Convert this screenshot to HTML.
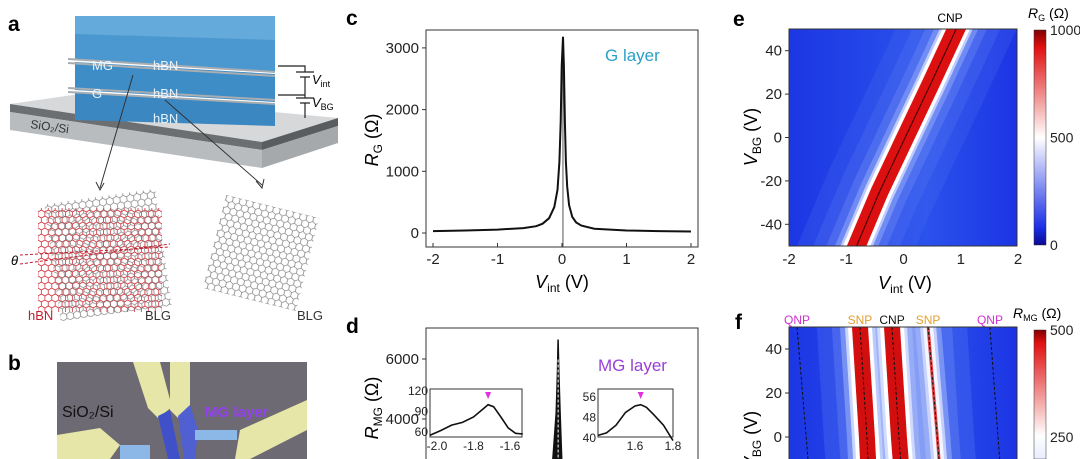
<!DOCTYPE html>
<html><head><meta charset="utf-8"><style>
html,body{margin:0;background:#fff;overflow:hidden;width:1080px;height:459px;}
svg{display:block;font-family:"Liberation Sans",Arial,sans-serif;}
</style></head><body>
<svg id="fig" width="1080" height="459" viewBox="0 0 1080 459" xmlns="http://www.w3.org/2000/svg">
<defs>
  <pattern id="hexR" width="6.9" height="12" patternUnits="userSpaceOnUse">
    <path d="M0,2 L3.45,0 L6.9,2 L6.9,6 L3.45,8 L0,6 Z M3.45,8 L3.45,12" fill="none" stroke="#d0303a" stroke-width="0.8"/>
  </pattern>
  <pattern id="hexG" width="6.9" height="12" patternUnits="userSpaceOnUse">
    <path d="M0,2 L3.45,0 L6.9,2 L6.9,6 L3.45,8 L0,6 Z M3.45,8 L3.45,12" fill="none" stroke="#777" stroke-width="0.7"/>
  </pattern>
  <linearGradient id="cbE" x1="0" y1="1" x2="0" y2="0">
    <stop offset="0" stop-color="#0a0a90"/><stop offset="0.08" stop-color="#1a2ee6"/>
    <stop offset="0.5" stop-color="#ffffff"/><stop offset="0.92" stop-color="#e01010"/><stop offset="1" stop-color="#800000"/>
  </linearGradient>
  <linearGradient id="cbF" x1="0" y1="1" x2="0" y2="0">
    <stop offset="0" stop-color="#e8ecff"/><stop offset="0.18" stop-color="#ffffff"/><stop offset="0.9" stop-color="#e01010"/><stop offset="1" stop-color="#800000"/>
  </linearGradient>
  <linearGradient id="bgE" x1="0" y1="0" x2="1" y2="0">
    <stop offset="0" stop-color="#1c36e4"/><stop offset="0.6" stop-color="#2a52ec"/><stop offset="1" stop-color="#1c34e4"/>
  </linearGradient>
  <clipPath id="clipE"><rect x="789" y="29" width="228" height="217"/></clipPath>
  <clipPath id="clipF"><rect x="789" y="327" width="228" height="132"/></clipPath>
  <clipPath id="clipD"><rect x="426" y="328" width="272" height="131"/></clipPath>
</defs>

<!-- Panel a -->
<g>
  <text x="8" y="31" font-size="21" font-weight="bold">a</text>
  <polygon points="10,104 80,94 338,118 262,142" fill="#d6d8da"/>
  <polygon points="10,104 262,142 262,150 10,112" fill="#6c6f72"/>
  <polygon points="10,112 262,150 262,168 10,130" fill="#b9bcbf"/>
  <polygon points="262,142 338,118 338,126 262,150" fill="#5a5d60"/>
  <polygon points="262,150 338,126 338,143 262,168" fill="#a6a9ac"/>
  <polygon points="75,16 275,16 275,72 75,60" fill="#4a98cf"/>
  <polygon points="75,16 275,16 275,40 75,34" fill="#6fb2de" opacity="0.7"/>
  <polygon points="75,62 275,74 275,102 75,90" fill="#3f8dc6"/>
  <polygon points="75,92 275,104 275,126 75,120" fill="#3a87c2"/>
  <path d="M68,59 L275,72 M68,63 L275,76 M68,88 L275,100 M68,92 L275,104" stroke="#a8adb2" stroke-width="2" fill="none"/>
  <g font-size="13" fill="#e8f2fa">
    <text x="92" y="70">MG</text>
    <text x="153" y="70">hBN</text>
    <text x="92" y="98">G</text>
    <text x="153" y="98">hBN</text>
    <text x="153" y="123">hBN</text>
  </g>
  <text x="30" y="128" font-size="12" fill="#333" transform="rotate(8 30 128)">SiO₂/Si</text>
  <path d="M278,66 H305 V72 M296,72 H314 M300,77 H310 M305,77 V95 M278,95 H305 M305,95 V98 M296,98 H314 M300,103 H310 M305,103 V118" stroke="#222" stroke-width="1.2" fill="none"/>
  <text x="312" y="84" font-size="13" font-style="italic">V<tspan font-size="9" font-style="normal" dy="3">int</tspan></text>
  <text x="312" y="107" font-size="13" font-style="italic">V<tspan font-size="9" font-style="normal" dy="3">BG</tspan></text>
  <path d="M133,75 L100,188 M165,100 L262,185" stroke="#333" stroke-width="1"/>
  <path d="M96,182 L100,190 L104,183 M256,181 L262,188 L264,179" stroke="#333" fill="none"/>
  <rect x="38" y="208" width="124" height="104" fill="url(#hexR)"/>
  <rect x="52" y="196" width="112" height="118" fill="url(#hexG)" transform="rotate(-8 108 255)"/>
  <rect x="213" y="205" width="96" height="96" fill="url(#hexG)" transform="rotate(14 261 253)"/>
  <path d="M20,255 L170,247 M20,264 L170,244" stroke="#c02030" stroke-width="1" stroke-dasharray="3,2"/>
  <text x="11" y="265" font-size="13" font-style="italic">θ</text>
  <text x="28" y="320" font-size="13" fill="#c02030">hBN</text>
  <text x="145" y="320" font-size="13" fill="#333">BLG</text>
  <text x="297" y="320" font-size="13" fill="#333">BLG</text>
</g>

<!-- Panel b -->
<g>
  <text x="8" y="370" font-size="21" font-weight="bold">b</text>
  <rect x="57" y="362" width="250" height="97" fill="#6d6a73"/>
  <polygon points="133,362 160,362 172,407 158,418 148,408" fill="#e6e6a8"/>
  <polygon points="170,362 190,362 190,405 178,418 170,410" fill="#e6e6a8"/>
  <polygon points="57,435 100,428 120,445 110,459 57,459" fill="#e6e6a8"/>
  <polygon points="240,430 307,400 307,430 250,459 235,459" fill="#e6e6a8"/>
  <polygon points="158,416 170,410 180,459 168,459" fill="#4050c8"/>
  <polygon points="178,416 190,405 198,430 195,459 184,459" fill="#5060d0"/>
  <rect x="195" y="430" width="42" height="10" fill="#8cb8e8"/>
  <rect x="120" y="445" width="30" height="14" fill="#8cb8e8"/>
  <text x="62" y="417" font-size="16" fill="#111">SiO₂/Si</text>
  <text x="205" y="417" font-size="15" font-weight="bold" fill="#9440f0">MG layer</text>
</g>

<g id="panelC"></g>
<g id="panelD"></g>
<g id="panelE"></g>
<g id="panelF"></g>
</svg>
<script>
// ---- Panel c data ----
const cV = [-2,-1.5,-1,-0.6,-0.4,-0.3,-0.2,-0.12,-0.07,-0.04,-0.02,-0.005,0.015,0.03,0.045,0.06,0.08,0.11,0.16,0.22,0.3,0.5,1,1.5,2];
const cR = [30,40,55,80,110,150,240,420,700,1150,1800,2700,3180,2700,1800,1150,750,450,260,170,120,70,40,30,25];
const cXTicks = [-2,-1,0,1,2];
const cYTicks = [0,1000,2000,3000];
// ---- Panel d data ----
const dV = [-0.6,-0.3,-0.15,-0.09,-0.07,-0.06,-0.05,-0.03,0.0,0.05,0.2];
const dR = [300,900,2400,4200,5600,6650,5600,4200,2400,900,300];
const dYTicks = [4000,6000];
const inLV = [-2.04,-1.98,-1.92,-1.86,-1.8,-1.75,-1.72,-1.69,-1.65,-1.61,-1.57,-1.53];
const inLR = [55,62,70,74,82,93,100,97,82,66,58,57];
const inLXTicks = [-2.0,-1.8,-1.6];
const inLYTicks = [60,90,120];
const inRV = [1.405,1.45,1.5,1.55,1.6,1.63,1.66,1.7,1.75,1.8];
const inRR = [41,42,45,50,52.5,53,52,49,45,39];
const inRXTicks = [1.6,1.8];
const inRYTicks = [40,48,56];
// ---- Panel e data ----
const eVbg = [-50,-25,0,25,50];
const eCnp = [-0.82,-0.42,0.03,0.48,0.92];
const eXTicks = [-2,-1,0,1,2];
const eYTicks = [-40,-20,0,20,40];
const eCbTicks = [0,500,1000];
// ---- Panel f data ----
const fVbg = [50,0,-10];
const fQnp1 = [-1.86,-1.70,-1.67];
const fSnp1 = [-0.76,-0.64,-0.62];
const fCnp = [-0.20,-0.08,-0.05];
const fSnp2 = [0.43,0.59,0.62];
const fQnp2 = [1.51,1.65,1.68];
const fYTicks = [0,20,40];
const fCbTicks = [250,500];

const NS='http://www.w3.org/2000/svg';
function mk(parent, tag, attrs, text){
  const el=document.createElementNS(NS,tag);
  for(const k in attrs) el.setAttribute(k,attrs[k]);
  if(text!==undefined) el.textContent=text;
  parent.appendChild(el);
  return el;
}
function pathFrom(xs,ys,fx,fy){return xs.map((v,i)=>(i?'L':'M')+fx(v).toFixed(1)+','+fy(ys[i]).toFixed(1)).join(' ');}
// same as pathFrom but extends both ends by 60px along the line (so strokes reach past the clip)
function pathExt(xs,ys,fx,fy){
  const P=xs.map((v,i)=>[fx(v),fy(ys[i])]);
  const n=P.length, ext=(a,b)=>{const dx=a[0]-b[0],dy=a[1]-b[1],L=Math.hypot(dx,dy)||1;return [a[0]+dx/L*60,a[1]+dy/L*60];};
  const pts=[ext(P[0],P[1])].concat(P,[ext(P[n-1],P[n-2])]);
  return pts.map((p,i)=>(i?'L':'M')+p[0].toFixed(1)+','+p[1].toFixed(1)).join(' ');
}
function glow(parent,d,layers){
  layers.forEach(L=>{
    const p=mk(parent,'path',{d:d,fill:'none',stroke:L[0],'stroke-width':L[1],opacity:L[2]});
    
    
  });
}

// ===== Panel C =====
const C=document.getElementById('panelC');
const cx=v=>433+(v+2)*64.5, cy=r=>233-r*0.0617;
let t;
t=mk(C,'text',{x:346,y:25,'font-size':21,'font-weight':'bold'},'c');


t=mk(C,'rect',{x:426,y:30,width:272,height:217,fill:'none',stroke:'#333','stroke-width':1});


cXTicks.forEach(v=>{
  t=mk(C,'line',{x1:cx(v),x2:cx(v),y1:247,y2:243,stroke:'#333'});
  
  
  t=mk(C,'text',{x:cx(v),y:264,'font-size':15,'text-anchor':'middle',fill:'#222'},String(v));
  
  
});
cYTicks.forEach(v=>{
  t=mk(C,'line',{x1:426,x2:422,y1:cy(v),y2:cy(v),stroke:'#333'});
  
  
  t=mk(C,'text',{x:419,y:cy(v)+5,'font-size':15,'text-anchor':'end',fill:'#222'},String(v));
  
  
});
t=mk(C,'line',{x1:cx(0.015),x2:cx(0.015),y1:cy(cR[12]),y2:247,stroke:'#555','stroke-width':1});


t=mk(C,'path',{d:pathFrom(cV,cR,cx,cy),fill:'none',stroke:'#111','stroke-width':2});


t=mk(C,'text',{x:605,y:61,'font-size':17,fill:'#2aa0c8'},'G layer');


t=mk(C,'text',{x:0,y:0,'font-size':18,'text-anchor':'middle',transform:'translate(378,140) rotate(-90)'});
t.innerHTML='<tspan font-style="italic">R</tspan><tspan font-size="12" dy="4">G</tspan><tspan dy="-4"> (Ω)</tspan>';


t=mk(C,'text',{x:562,y:288,'font-size':18,'text-anchor':'middle'});
t.innerHTML='<tspan font-style="italic">V</tspan><tspan font-size="12" dy="4">int</tspan><tspan dy="-4"> (V)</tspan>';



// ===== Panel D =====
const D=document.getElementById('panelD');
const dy=r=>539-r*0.03;
t=mk(D,'text',{x:346,y:333,'font-size':21,'font-weight':'bold'},'d');


t=mk(D,'path',{d:'M426,459 V328 H698 V459',fill:'none',stroke:'#333'});


dYTicks.forEach(v=>{
  t=mk(D,'line',{x1:426,x2:422,y1:dy(v),y2:dy(v),stroke:'#333'});
  
  
  t=mk(D,'text',{x:419,y:dy(v)+5,'font-size':15,'text-anchor':'end',fill:'#222'},String(v));
  
  
});
const dg=mk(D,'g',{'clip-path':'url(#clipD)'});
t=mk(dg,'path',{d:pathFrom(dV,dR,cx,dy)+' Z',fill:'#111',stroke:'#111','stroke-width':1.5});


t=mk(dg,'line',{x1:cx(dV[5]),x2:cx(dV[5]),y1:dy(dR[5])+20,y2:459,stroke:'#fff','stroke-width':1,'stroke-dasharray':'3,2'});


t=mk(D,'text',{x:598,y:371,'font-size':17,fill:'#9a3fd6'},'MG layer');


t=mk(D,'text',{x:0,y:0,'font-size':18,'text-anchor':'middle',transform:'translate(378,408) rotate(-90)'});
t.innerHTML='<tspan font-style="italic">R</tspan><tspan font-size="12" dy="4">MG</tspan><tspan dy="-4"> (Ω)</tspan>';


function inset(name,x0,x1,y0,y1,fx,fy,xs,ys,xt,yt,peak,dec){
  const g=mk(D,'g',{});
  
  
  t=mk(g,'rect',{x:x0,y:y0,width:x1-x0,height:y1-y0,fill:'#fff',stroke:'#333'});
  
  
  xt.forEach(v=>{
    t=mk(g,'text',{x:fx(v),y:y1+13,'font-size':12,'text-anchor':'middle',fill:'#222'},v.toFixed(dec));
    
    
  });
  yt.forEach(v=>{
    t=mk(g,'text',{x:x0-2,y:fy(v)+4,'font-size':12,'text-anchor':'end',fill:'#222'},String(v));
    
    
  });
  t=mk(g,'path',{d:pathFrom(xs,ys,fx,fy),fill:'none',stroke:'#111','stroke-width':1.6});
  
  
  const px=fx(peak);
  t=mk(g,'polygon',{points:`${px-3},${y0+3} ${px+3},${y0+3} ${px},${y0+10}`,fill:'#e030e0'});
  
  
}
inset('inset-left',430,522,389,437,v=>437+(v+2)*182.5,r=>391-(r-120)*0.683,inLV,inLR,inLXTicks,inLYTicks,inLV[6],1);
inset('inset-right',598,673,389,437,v=>635+(v-1.6)*190,r=>397-(r-56)*2.5625,inRV,inRR,inRXTicks,inRYTicks,inRV[5],1);

// ===== Panel E =====
const E=document.getElementById('panelE');
const ex=v=>789+(v+2)*57.25, ey=V=>137.5-V*2.17;
t=mk(E,'text',{x:733,y:26,'font-size':21,'font-weight':'bold'},'e');


const eg=mk(E,'g',{'clip-path':'url(#clipE)'});
t=mk(eg,'rect',{x:789,y:29,width:228,height:217,fill:'url(#bgE)'});


const eD=pathExt(eCnp,eVbg,ex,ey);
glow(eg,eD,[['#4a6cf0',110,0.25],['#5a7cf2',80,0.25],['#7a96f6',56,0.3],['#a8bcfa',40,0.4],['#dfe6ff',30,0.7],['#ffffff',25,1]]);
t=mk(eg,'path',{d:eD,fill:'none',stroke:'#dc1010','stroke-width':18});


t=mk(eg,'path',{d:eD,fill:'none',stroke:'#500000','stroke-width':1.2});


t=mk(E,'rect',{x:789,y:29,width:228,height:217,fill:'none',stroke:'#333'});


eXTicks.forEach(v=>{
  t=mk(E,'text',{x:ex(v),y:264,'font-size':15,'text-anchor':'middle',fill:'#222'},String(v));
  
  
});
eYTicks.forEach(v=>{
  t=mk(E,'line',{x1:789,x2:785,y1:ey(v),y2:ey(v),stroke:'#333'});
  
  
  t=mk(E,'text',{x:782,y:ey(v)+5,'font-size':15,'text-anchor':'end',fill:'#222'},String(v));
  
  
});
t=mk(E,'text',{x:950,y:22,'font-size':12,'text-anchor':'middle'},'CNP');


t=mk(E,'rect',{x:1034,y:30,width:12,height:215,fill:'url(#cbE)',stroke:'#333','stroke-width':0.5});


eCbTicks.forEach(v=>{
  const y=245-v*0.215;
  t=mk(E,'text',{x:1050,y:y+5,'font-size':14,fill:'#222'},String(v));
  
  
});
t=mk(E,'text',{x:1028,y:18,'font-size':14});
t.innerHTML='<tspan font-style="italic">R</tspan><tspan font-size="9" dy="3">G</tspan><tspan dy="-3"> (Ω)</tspan>';


t=mk(E,'text',{x:0,y:0,'font-size':18,'text-anchor':'middle',transform:'translate(757,137) rotate(-90)'});
t.innerHTML='<tspan font-style="italic">V</tspan><tspan font-size="12" dy="4">BG</tspan><tspan dy="-4"> (V)</tspan>';


t=mk(E,'text',{x:905,y:289,'font-size':18,'text-anchor':'middle'});
t.innerHTML='<tspan font-style="italic">V</tspan><tspan font-size="12" dy="4">int</tspan><tspan dy="-4"> (V)</tspan>';



// ===== Panel F =====
const F=document.getElementById('panelF');
const fy=V=>437-V*2.2;
t=mk(F,'text',{x:735,y:329,'font-size':21,'font-weight':'bold'},'f');


const fg=mk(F,'g',{'clip-path':'url(#clipF)'});
t=mk(fg,'rect',{x:789,y:327,width:228,height:132,fill:'url(#bgE)'});


const pC=pathExt(fCnp,fVbg,ex,fy), pS1=pathExt(fSnp1,fVbg,ex,fy), pS2=pathExt(fSnp2,fVbg,ex,fy);
glow(fg,pC,[['#5a7cf2',150,0.3],['#7a96f6',120,0.3],['#9fb4f8',90,0.3],['#c4d0fc',64,0.35]]);
glow(fg,pS2,[['#a8bcfa',26,0.5],['#dfe6ff',16,0.7],['#ffffff',10,0.8]]);
glow(fg,pS1,[['#a8bcfa',40,0.5],['#dfe6ff',30,0.8],['#ffffff',24,1]]);
glow(fg,pC,[['#a8bcfa',40,0.5],['#dfe6ff',30,0.8],['#ffffff',24,1]]);
[pS1,pC].forEach(p=>{
  t=mk(fg,'path',{d:p,fill:'none',stroke:'#d20e0e','stroke-width':16});
  
  
});
t=mk(fg,'path',{d:pS2,fill:'none',stroke:'#e04040','stroke-width':3});


[fQnp1,fSnp1,fCnp,fSnp2,fQnp2].forEach(arr=>{
  t=mk(fg,'path',{d:pathFrom(arr,fVbg,ex,fy),fill:'none',stroke:'#111','stroke-width':1,'stroke-dasharray':'3,2'});
  
  
});
t=mk(F,'path',{d:'M789,459 V327 H1017 V459',fill:'none',stroke:'#333'});


fYTicks.forEach(v=>{
  t=mk(F,'line',{x1:789,x2:785,y1:fy(v),y2:fy(v),stroke:'#333'});
  
  
  t=mk(F,'text',{x:782,y:fy(v)+5,'font-size':15,'text-anchor':'end',fill:'#222'},String(v));
  
  
});
const fLabels=[['QNP',fQnp1[0],'#d030d0'],['SNP',fSnp1[0],'#e0a030'],['CNP',fCnp[0],'#111'],['SNP',fSnp2[0],'#e0a030'],['QNP',fQnp2[0],'#d030d0']];
fLabels.forEach(l=>{
  t=mk(F,'text',{x:ex(l[1]),y:324,'font-size':12,'text-anchor':'middle',fill:l[2]},l[0]);
  
  
});
t=mk(F,'rect',{x:1034,y:330,width:12,height:129,fill:'url(#cbF)',stroke:'#333','stroke-width':0.5});


fCbTicks.forEach(v=>{
  const y=544-v*0.428;
  t=mk(F,'text',{x:1050,y:y+5,'font-size':14,fill:'#222'},String(v));
  
  
});
t=mk(F,'text',{x:1013,y:318,'font-size':14});
t.innerHTML='<tspan font-style="italic">R</tspan><tspan font-size="9" dy="3">MG</tspan><tspan dy="-3"> (Ω)</tspan>';


t=mk(F,'text',{x:0,y:0,'font-size':18,'text-anchor':'middle',transform:'translate(757,440) rotate(-90)'});
t.innerHTML='<tspan font-style="italic">V</tspan><tspan font-size="12" dy="4">BG</tspan><tspan dy="-4"> (V)</tspan>';


</script>
</body></html>
